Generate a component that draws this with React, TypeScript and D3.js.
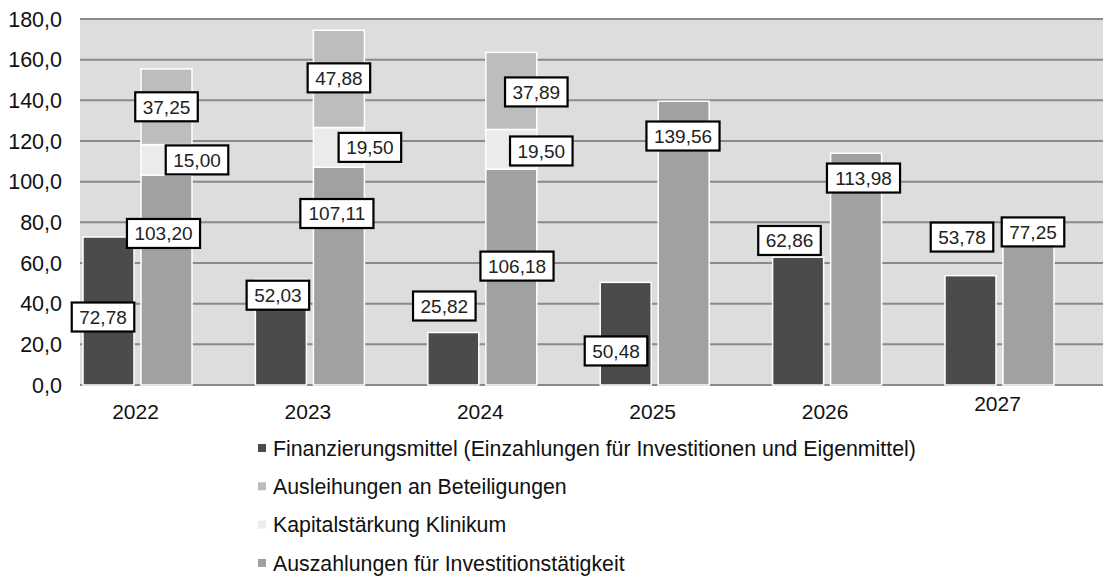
import React from "react";
import * as d3 from "d3";

const years = ["2022", "2023", "2024", "2025", "2026", "2027"];
const finanzierung = [72.78, 52.03, 25.82, 50.48, 62.86, 53.78];
const auszahlungen = [103.2, 107.11, 106.18, 139.56, 113.98, 77.25];
const kapital = [15.0, 19.5, 19.5, 0, 0, 0];
const ausleihungen = [37.25, 47.88, 37.89, 0, 0, 0];
const yTicks = [0, 20, 40, 60, 80, 100, 120, 140, 160, 180];
const legendLabels = [
  "Finanzierungsmittel (Einzahlungen für Investitionen und Eigenmittel)",
  "Ausleihungen an Beteiligungen",
  "Kapitalstärkung Klinikum",
  "Auszahlungen für Investitionstätigkeit",
];

// layout (label placement offsets, px)
const finOff = [[-5.5, 80], [-3, 16], [-9, -26.5], [-9.7, 68.6], [-8.6, -16.7], [-8.5, -38.6]];
const ausOff = [[-3, 58.3], [-2, 46.3], [5.7, 97], [-0.7, 34.8], [7.4, 24.8], [4.5, 4]];
const kapOff = [[30.5, 0], [31, 0], [30, 1.7]];
const leiOff = [[0, 0], [0, -1], [25, 1]];
const yearDy = [0, 0, 0, 0, 0, -8];

const C_FIN = "#4b4b4b";
const C_AUS = "#a1a1a1";
const C_LEI = "#bdbdbd";
const C_KAP = "#ebebeb";
const FONT = "'Liberation Sans', Arial, sans-serif";

const fmt = (v: number) => v.toFixed(2).replace(".", ",");
const textW = (s: string, fs: number) =>
  s.split("").reduce((a, c) => a + (c === "," ? 0.278 : 0.556), 0) * fs;

function Label({ cx, cy, v }: { cx: number; cy: number; v: number }) {
  const s = fmt(v);
  const fs = 19;
  const w = textW(s, fs) + 15;
  const h = 29;
  return (
    <g>
      <rect x={cx - w / 2} y={cy - h / 2} width={w} height={h} fill="#fff" stroke="#000" strokeWidth={2.2} />
      <text x={cx} y={cy} dy="0.36em" textAnchor="middle" fontSize={fs} fontFamily={FONT} fill="#222">
        {s}
      </text>
    </g>
  );
}

export default function App() {
  const W = 1103, H = 577;
  const left = 80, right = 1103, top = 19, bottom = 385;
  const y = d3.scaleLinear().domain([0, 180]).range([bottom, top]);
  const x = d3.scaleBand().domain(years).range([51.3, 1085.7]).padding(0);
  const sub = d3.scaleBand().domain(["fin", "aus"]).range([-54.5, 54.5]).paddingInner(0.1207).paddingOuter(0);
  const bw = sub.bandwidth();
  const cc = (i: number) => (x(years[i]) as number) + x.bandwidth() / 2;

  const bars: React.ReactNode[] = [];
  const labels: React.ReactNode[] = [];
  years.forEach((yr, i) => {
    const c = cc(i);
    const fx = c + (sub("fin") as number);
    const ax = c + (sub("aus") as number);
    bars.push(
      <rect key={"f" + i} x={fx} y={y(finanzierung[i])} width={bw} height={y(0) - y(finanzierung[i])} fill={C_FIN} stroke="#fff" strokeWidth={1.5} />
    );
    const segs = [
      { v0: 0, v1: auszahlungen[i], col: C_AUS },
      { v0: auszahlungen[i], v1: auszahlungen[i] + kapital[i], col: C_KAP },
      { v0: auszahlungen[i] + kapital[i], v1: auszahlungen[i] + kapital[i] + ausleihungen[i], col: C_LEI },
    ];
    segs.forEach((s, k) => {
      if (s.v1 - s.v0 <= 0) return;
      bars.push(
        <rect key={"a" + i + k} x={ax} y={y(s.v1)} width={bw} height={y(s.v0) - y(s.v1)} fill={s.col} stroke="#fff" strokeWidth={1.5} />
      );
    });
    labels.push(<Label key={"lf" + i} cx={fx + bw / 2 + finOff[i][0]} cy={y(finanzierung[i]) + finOff[i][1]} v={finanzierung[i]} />);
    labels.push(<Label key={"la" + i} cx={ax + bw / 2 + ausOff[i][0]} cy={y(auszahlungen[i]) + ausOff[i][1]} v={auszahlungen[i]} />);
    if (kapital[i] > 0) {
      const mid = auszahlungen[i] + kapital[i] / 2;
      labels.push(<Label key={"lk" + i} cx={ax + bw / 2 + kapOff[i][0]} cy={y(mid) + kapOff[i][1]} v={kapital[i]} />);
    }
    if (ausleihungen[i] > 0) {
      const mid = auszahlungen[i] + kapital[i] + ausleihungen[i] / 2;
      labels.push(<Label key={"ll" + i} cx={ax + bw / 2 + leiOff[i][0]} cy={y(mid) + leiOff[i][1]} v={ausleihungen[i]} />);
    }
  });

  const legendColors = [C_FIN, C_LEI, C_KAP, C_AUS];

  return (
    <svg width={W} height={H} style={{ position: "absolute", left: 0, top: 0, background: "#fff" }}>
      <rect x={left} y={top} width={right - left} height={bottom - top} fill="#dddddd" />
      {yTicks.map((t) => (
        <line key={"g" + t} x1={left} x2={right} y1={y(t)} y2={y(t)} stroke="#8a8a8a" strokeWidth={2} />
      ))}
      {bars}
      {labels}
      {yTicks.map((t) => (
        <text key={"t" + t} x={62} y={y(t)} dy="0.36em" textAnchor="end" fontSize={21.5} fontFamily={FONT} fill="#111">
          {t.toFixed(1).replace(".", ",")}
        </text>
      ))}
      {years.map((yr, i) => (
        <text key={"y" + yr} x={cc(i) - 2} y={411 + yearDy[i]} dy="0.36em" textAnchor="middle" fontSize={21} fontFamily={FONT} fill="#111">
          {yr}
        </text>
      ))}
      {legendLabels.map((l, i) => (
        <g key={"lg" + i}>
          <rect x={258} y={448 + i * 38.3 - 4} width={8} height={8} fill={legendColors[i]} />
          <text x={273} y={448 + i * 38.3} dy="0.36em" fontSize={21.3} fontFamily={FONT} fill="#111">
            {l}
          </text>
        </g>
      ))}
    </svg>
  );
}
